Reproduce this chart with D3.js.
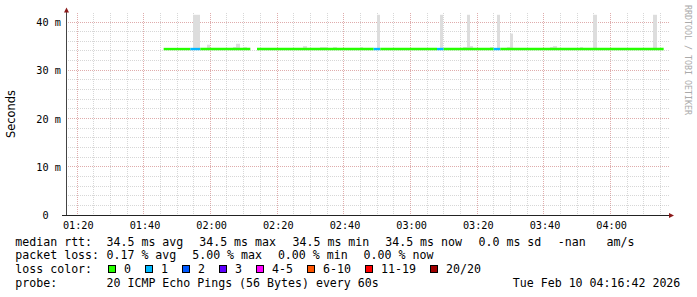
<!DOCTYPE html>
<html>
<head>
<meta charset="utf-8">
<script src="https://cdn.jsdelivr.net/npm/d3@7"></script>
<style>
  body { margin: 0; background: #fff; }
  text { font-family: "DejaVu Sans Mono", monospace; }
</style>
</head>
<body>
<div id="chart"></div>
<script>
// graph window: 3 hours ending at the graph timestamp
var windowStart = "01:16:42", windowEnd = "04:16:42";

// median rtt line, split where the loss colour changes (loss = pings lost of 20)
var segStart  = ["01:46", "01:54", "01:57", "02:14", "02:49", "02:51", "03:08", "03:10", "03:25", "03:27"];
var segEnd    = ["01:54", "01:57", "02:12", "02:49", "02:51", "03:08", "03:10", "03:25", "03:27", "04:16"];
var segLoss   = [0, 1, 0, 0, 1, 0, 1, 0, 1, 0];
var segMedian = [34.5, 34.5, 34.5, 34.5, 34.5, 34.5, 34.5, 34.5, 34.5, 34.5];

// smoke: highest ping of each 60s step that rises above the median line
var smokeTime = ["01:55", "01:56", "01:59", "02:07", "02:08", "02:10", "02:28", "02:33", "02:34", "02:37",
                 "02:45", "02:50", "03:09", "03:16", "03:17", "03:18", "03:24", "03:26", "03:29", "03:30",
                 "03:42", "03:43", "03:51", "03:55", "04:13"];
var smokeMax  = [41.6, 41.6, 35.4, 34.9, 35.6, 34.9, 35.1, 34.9, 34.9, 34.9,
                 34.9, 41.6, 41.6, 34.9, 41.6, 35.1, 34.9, 41.6, 34.9, 37.7,
                 34.9, 35.1, 34.9, 41.6, 41.6];
var smokeMin  = 34.4;

var yTicks = [0, 10, 20, 30, 40];
var yTickLabels = ["0  ", "10 m", "20 m", "30 m", "40 m"];

var lossLabels = ["0", "1", "2", "3", "4-5", "6-10", "11-19", "20/20"];
var lossColors = ["#26ff00", "#00b8ff", "#0059ff", "#5e00ff", "#ff00ff", "#ff5500", "#ff0000", "#a00000"];

var rttLegend  = ["34.5 ms avg", "34.5 ms max", "34.5 ms min", "34.5 ms now", "0.0 ms sd", "-nan", "am/s"];
var lossLegend = ["0.17 % avg", "5.00 % max", "0.00 % min", "0.00 % now"];
var probeText  = "20 ICMP Echo Pings (56 Bytes) every 60s";
var stampText  = "Tue Feb 10 04:16:42 2026";

// legend layout
var rttX  = [106.5, 199.2, 292.5, 385.2, 478.5, 557.8, 606.5];
var lossX = [106.5, 192.2, 277.9, 363.6];

var width = 697, height = 297;
var plotTop = 14, plotBottom = 215.5;

function parseT(s) {
  return d3.timeParse("%H:%M:%S")(s.length == 5 ? s + ":00" : s);
}
function lossIndex(n) {
  if (n <= 3) return n;
  if (n <= 5) return 4;
  if (n <= 10) return 5;
  if (n <= 19) return 6;
  return 7;
}

var svg = d3.select("#chart").append("svg")
  .attr("width", width)
  .attr("height", height)
  .style("display", "block");

var x = d3.scaleTime()
  .domain([parseT(windowStart), parseT(windowEnd)])
  .range([66, 666]);

var y = d3.scaleLinear()
  .domain([0, 40])
  .range([215.5, 22.5]);

// grid
var grid = svg.append("g");
var minutes = d3.timeMinute.every(5).range(parseT(windowStart), parseT(windowEnd));
minutes.forEach(function(t) {
  var major = t.getMinutes() % 20 == 0;
  var gx = Math.floor(x(t)) + 0.5;
  grid.append("line")
    .attr("x1", gx).attr("x2", gx)
    .attr("y1", plotTop - 1).attr("y2", plotBottom)
    .attr("stroke", major ? "#b03030" : "#8c8c8c")
    .attr("stroke-opacity", major ? 0.4 : 0.35)
    .attr("stroke-dasharray", "1,1");
});
y.ticks(20).forEach(function(v) {
  if (v == 0) return;
  var major = v % 10 == 0;
  var gy = Math.round(y(v)) - 0.5;
  grid.append("line")
    .attr("x1", 66).attr("x2", 669)
    .attr("y1", gy).attr("y2", gy)
    .attr("stroke", major ? "#b03030" : "#8c8c8c")
    .attr("stroke-opacity", major ? 0.4 : 0.35)
    .attr("stroke-dasharray", "1,1");
});

// smoke
svg.append("g").selectAll("rect")
  .data(smokeTime)
  .enter()
  .append("rect")
  .attr("x", function(d) { return Math.floor(x(parseT(d))); })
  .attr("width", function(d) {
    var t = parseT(d);
    return Math.floor(x(d3.timeSecond.offset(t, 60))) - Math.floor(x(t));
  })
  .attr("y", function(d, i) { return y(smokeMax[i]); })
  .attr("height", function(d, i) { return y(smokeMin) - y(smokeMax[i]); })
  .attr("fill", "#dddddd");

// median line coloured by loss
var line = d3.line()
  .x(function(d) { return x(d.t); })
  .y(function(d) { return y(d.v); });

segStart.forEach(function(s, i) {
  svg.append("path")
    .datum([{t: parseT(s), v: segMedian[i]}, {t: parseT(segEnd[i]), v: segMedian[i]}])
    .attr("d", line)
    .attr("fill", "none")
    .attr("stroke", lossColors[lossIndex(segLoss[i])])
    .attr("stroke-width", 2.4);
});

// axes
svg.append("line")
  .attr("x1", 66.5).attr("x2", 66.5)
  .attr("y1", 11).attr("y2", 216)
  .attr("stroke", "#444");
svg.append("line")
  .attr("x1", 62).attr("x2", 670)
  .attr("y1", 215.5).attr("y2", 215.5)
  .attr("stroke", "#222");
svg.append("path")
  .attr("d", "M64,12.5 L69,12.5 L66.5,7.5 Z")
  .attr("fill", "#8b1a1a");
svg.append("path")
  .attr("d", "M669,213 L669,218 L674,215.5 Z")
  .attr("fill", "#8b1a1a");

// x axis labels
var xAxis = d3.axisBottom(x)
  .ticks(d3.timeMinute.every(20))
  .tickFormat(d3.timeFormat("%H:%M"))
  .tickSize(0)
  .tickPadding(0);
var gx = svg.append("g")
  .attr("transform", "translate(0.8,229)")
  .call(xAxis);
gx.select(".domain").remove();
gx.selectAll("text")
  .attr("dy", 0)
  .attr("y", 0)
  .style("font-family", "'DejaVu Sans Mono', monospace")
  .style("font-size", "10.2px")
  .attr("fill", "#000");

// y axis labels
svg.append("g").selectAll("text")
  .data(yTicks)
  .enter()
  .append("text")
  .attr("x", 60.8)
  .attr("y", function(d) { return y(d) + 3.6; })
  .attr("text-anchor", "end")
  .style("font-size", "10.2px")
  .style("white-space", "pre")
  .text(function(d, i) { return yTickLabels[i]; });

// vertical axis title
svg.append("text")
  .attr("transform", "translate(14.5,114) rotate(-90)")
  .attr("text-anchor", "middle")
  .style("font-family", "'DejaVu Sans', sans-serif")
  .style("font-size", "11.4px")
  .text("Seconds");

// watermark
svg.append("text")
  .attr("transform", "translate(685,5) rotate(90)")
  .style("font-size", "8.3px")
  .attr("fill", "#aaa")
  .text("RRDTOOL / TOBI OETIKER");

// legend
var lg = svg.append("g").style("font-size", "11.6px").style("white-space", "pre");
var rows = [245.5, 259.3, 273, 286.8];

lg.append("text").attr("x", 15.3).attr("y", rows[0]).text("median rtt:");
rttLegend.forEach(function(s, i) {
  lg.append("text").attr("x", rttX[i]).attr("y", rows[0]).text(s);
});

lg.append("text").attr("x", 15.3).attr("y", rows[1]).text("packet loss:");
lossLegend.forEach(function(s, i) {
  lg.append("text").attr("x", lossX[i]).attr("y", rows[1]).text(s);
});

lg.append("text").attr("x", 15.3).attr("y", rows[2]).text("loss color:");
var sx = 108.5;
lossLabels.forEach(function(s, i) {
  lg.append("rect")
    .attr("x", sx).attr("y", 265.5)
    .attr("width", 7).attr("height", 7)
    .attr("fill", lossColors[i])
    .attr("stroke", "#000");
  lg.append("text").attr("x", sx + 15.6).attr("y", rows[2]).text(s);
  sx += 30 + 7 * s.length;
});

lg.append("text").attr("x", 15.3).attr("y", rows[3]).text("probe:");
lg.append("text").attr("x", 106.5).attr("y", rows[3]).text(probeText);
lg.append("text").attr("x", 512.8).attr("y", rows[3]).text(stampText);
</script>
</body>
</html>
